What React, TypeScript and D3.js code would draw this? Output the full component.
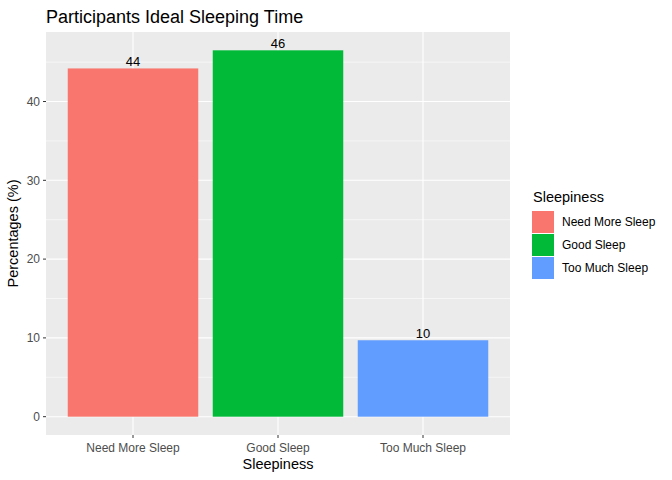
import React from 'react';
import * as d3 from 'd3';

const categories = ['Need More Sleep', 'Good Sleep', 'Too Much Sleep'];
const percentages = [44.2, 46.5, 9.7];
const valueLabels = ['44', '46', '10'];
const colors = ['#F8766D', '#00BA38', '#619CFF'];
const yTicks = [0, 10, 20, 30, 40];
const yMinor = [5, 15, 25, 35, 45];

const W = 672;
const H = 480;
const margin = { top: 32, right: 162, bottom: 45, left: 46 };
const font = 'Liberation Sans, Arial, sans-serif';

const App = () => {
  const pw = W - margin.left - margin.right;
  const ph = H - margin.top - margin.bottom;

  // ggplot-style discrete scale: 0.6 units of expansion on each side
  const x = d3.scalePoint<string>()
    .domain(categories)
    .range([0, pw])
    .padding(0.6);
  const bw = x.step() * 0.9;

  const maxV = d3.max(percentages) as number;
  const pad = maxV * 0.05;
  const y = d3.scaleLinear()
    .domain([-pad, maxV + pad])
    .range([ph, 0]);

  return (
    <svg width={W} height={H} style={{ display: 'block', position: 'absolute', left: 0, top: 0 }} fontFamily={font}>
      <rect width={W} height={H} fill="#ffffff" />
      <text x={margin.left} y={23} fontSize={18} fill="#000">Participants Ideal Sleeping Time</text>
      <g transform={`translate(${margin.left},${margin.top})`}>
        <rect width={pw} height={ph} fill="#EBEBEB" />
        {yMinor.map(t => (
          <line key={'m' + t} x1={0} x2={pw} y1={y(t)} y2={y(t)} stroke="#ffffff" strokeWidth={0.55} />
        ))}
        {yTicks.map(t => (
          <line key={'g' + t} x1={0} x2={pw} y1={y(t)} y2={y(t)} stroke="#ffffff" strokeWidth={1.1} />
        ))}
        {categories.map(c => (
          <line key={'v' + c} x1={x(c)} x2={x(c)} y1={0} y2={ph} stroke="#ffffff" strokeWidth={1.1} />
        ))}
        {categories.map((c, i) => (
          <rect key={'b' + c} x={(x(c) as number) - bw / 2} y={y(percentages[i])} width={bw}
            height={y(0) - y(percentages[i])} fill={colors[i]} />
        ))}
        {categories.map((c, i) => (
          <text key={'l' + c} x={x(c)} y={y(percentages[i]) - 2} textAnchor="middle" fontSize={13} fill="#000">
            {valueLabels[i]}
          </text>
        ))}
        {yTicks.map(t => (
          <g key={'yt' + t}>
            <line x1={-3} x2={0} y1={y(t)} y2={y(t)} stroke="#333333" strokeWidth={1} />
            <text x={-6} y={y(t)} dy="0.35em" textAnchor="end" fontSize={12} fill="#4D4D4D">{t}</text>
          </g>
        ))}
        {categories.map(c => (
          <g key={'xt' + c}>
            <line x1={x(c)} x2={x(c)} y1={ph} y2={ph + 3} stroke="#333333" strokeWidth={1} />
            <text x={x(c)} y={ph + 17} textAnchor="middle" fontSize={12} fill="#4D4D4D">{c}</text>
          </g>
        ))}
        <text x={pw / 2} y={ph + 34} textAnchor="middle" fontSize={14.5} fill="#000">Sleepiness</text>
        <text transform={`translate(${-28},${ph / 2}) rotate(-90)`} textAnchor="middle" fontSize={14.5} fill="#000">
          Percentages (%)
        </text>
      </g>
      <g transform="translate(532,0)">
        <text x={1} y={202} fontSize={14.5} fill="#000">Sleepiness</text>
        {categories.map((c, i) => (
          <g key={'lg' + c} transform={`translate(0,${211 + i * 23})`}>
            <rect x={0} y={0} width={22} height={22} fill={colors[i]} />
            <text x={30} y={11} dy="0.35em" fontSize={12} fill="#000">{c}</text>
          </g>
        ))}
      </g>
    </svg>
  );
};

export default App;
